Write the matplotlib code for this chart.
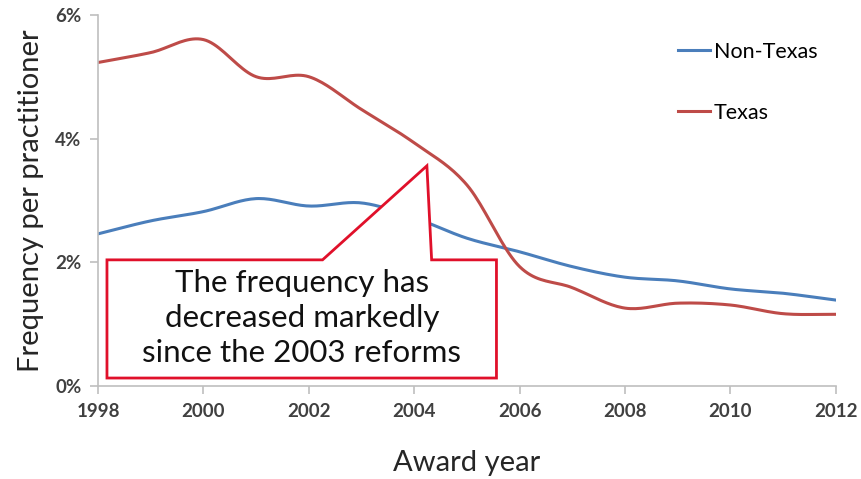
import numpy as np
import matplotlib.pyplot as plt
from matplotlib.patches import Polygon
from matplotlib.ticker import FuncFormatter

years = np.arange(1998, 2013)
non_texas = [2.46, 2.67, 2.82, 3.03, 2.91, 2.96, 2.72, 2.39, 2.17, 1.93,
             1.76, 1.70, 1.57, 1.50, 1.39]
texas = [5.23, 5.39, 5.60, 5.00, 5.00, 4.47, 3.93, 3.25, 1.93, 1.59,
         1.26, 1.34, 1.31, 1.17, 1.16]
callout = "The frequency has\ndecreased markedly\nsince the 2003 reforms"


def smooth(x, y, n=20):
    # catmull-rom, roughly like excel's smoothed line
    x = np.asarray(x, float)
    y = np.asarray(y, float)
    px = np.r_[2 * x[0] - x[1], x, 2 * x[-1] - x[-2]]
    py = np.r_[2 * y[0] - y[1], y, 2 * y[-1] - y[-2]]
    xs, ys = [], []
    t = np.linspace(0, 1, n, endpoint=False)
    for i in range(1, len(px) - 2):
        for p, out in ((px, xs), (py, ys)):
            p0, p1, p2, p3 = p[i - 1], p[i], p[i + 1], p[i + 2]
            out.extend(0.5 * (2 * p1 + (-p0 + p2) * t
                              + (2 * p0 - 5 * p1 + 4 * p2 - p3) * t ** 2
                              + (-p0 + 3 * p1 - 3 * p2 + p3) * t ** 3))
    xs.append(x[-1])
    ys.append(y[-1])
    return np.array(xs), np.array(ys)


plt.rcParams['font.family'] = ['Lato', 'DejaVu Sans']

fig = plt.figure(figsize=(8.62, 4.79), dpi=100)
ax = fig.add_axes([0.1137, 0.194, 0.856, 0.775])

ax.plot(*smooth(years, non_texas), color='#4a7ebb', lw=2.2, label='Non-Texas')
ax.plot(*smooth(years, texas), color='#be4b48', lw=2.2, label='Texas')

ax.set_xlim(1998, 2012)
ax.set_ylim(0, 6)
ax.set_xticks(range(1998, 2013, 2))
ax.set_yticks([0, 2, 4, 6])
ax.yaxis.set_major_formatter(FuncFormatter(lambda v, p: f'{v:.0f}%'))

for s in ['top', 'right']:
    ax.spines[s].set_visible(False)
for s in ['left', 'bottom']:
    ax.spines[s].set_color('#bfbfbf')
    ax.spines[s].set_linewidth(1.2)
ax.tick_params(axis='both', colors='#bfbfbf', length=6, width=1.2,
               labelsize=13.5, labelcolor='#404040', pad=6)
for lbl in ax.get_xticklabels() + ax.get_yticklabels():
    lbl.set_fontweight('bold')

ax.set_xlabel('Award year', fontsize=21, color='#262626', labelpad=22)
ax.set_ylabel('Frequency per practitioner', fontsize=21, color='#262626', labelpad=8)

leg = ax.legend(loc='upper left', bbox_to_anchor=(0.76, 0.98), frameon=False,
                fontsize=15.5, handlelength=1.5, handletextpad=0.15,
                labelspacing=1.9)

# callout box with pointer
box = [(1998.17, 0.13), (1998.17, 2.04), (2002.26, 2.04), (2004.24, 3.56),
       (2004.33, 2.04), (2005.56, 2.04), (2005.56, 0.13)]
ax.add_patch(Polygon(box, closed=True, facecolor='white', edgecolor='#e0102a',
                     lw=2, zorder=5))
ax.text(2001.87, 1.10, callout, ha='center', va='center', fontsize=22.5,
        color='#111111', linespacing=1.3, zorder=6)

fig.savefig('out.png', dpi=100)
